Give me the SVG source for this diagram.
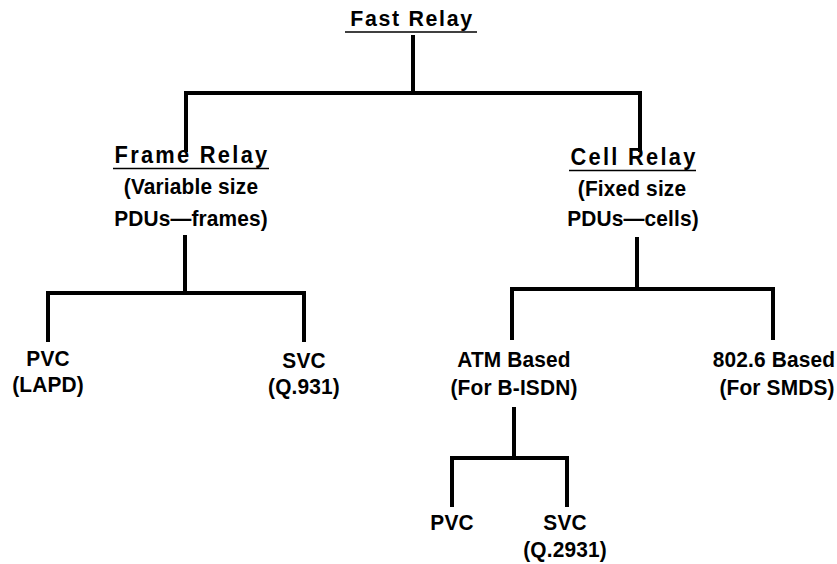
<svg xmlns="http://www.w3.org/2000/svg" width="837" height="564" viewBox="0 0 837 564">
  <style>
    .lbl { font-family: "Liberation Sans", Arial, sans-serif; font-weight: bold; font-size: 22px; letter-spacing: 0.15px; fill: #000; text-anchor: middle; }
    .head { font-size: 23px; letter-spacing: 2.4px; }
    .top { font-size: 22.5px; letter-spacing: 1.75px; }
    .ul { stroke: #000; stroke-width: 1.6; }
    .conn { fill: none; stroke: #000; stroke-width: 4; stroke-linecap: butt; stroke-linejoin: miter; }
  </style>
  <rect width="837" height="564" fill="#fff"/>

  <!-- tree connectors -->
  <g id="connectors">
    <path class="conn" d="M413 35 V93 M186 152 V93 H640 V152"/>
    <path class="conn" d="M185 235 V293 M48 342 V293 H304 V342"/>
    <path class="conn" d="M637 237 V289 M512 340 V289 H773 V340"/>
    <path class="conn" d="M514 407 V458 M452 507 V458 H567 V507"/>
  </g>

  <!-- labels are set in a slightly condensed bold sans (x scaled to 0.95) -->
  <g id="fast-relay">
    <text class="lbl top" transform="translate(412 26) scale(0.95 1)">Fast Relay</text>
    <line class="ul" x1="345" y1="32" x2="477" y2="32"/>
  </g>

  <g id="frame-relay">
    <text class="lbl head" transform="translate(192 163) scale(0.95 1)">Frame Relay</text>
    <line class="ul" x1="113" y1="168.5" x2="269" y2="168.5"/>
    <text class="lbl" transform="translate(191 194) scale(0.95 1)">(Variable size</text>
    <text class="lbl" transform="translate(191 226) scale(0.95 1)">PDUs—frames)</text>
  </g>

  <g id="cell-relay">
    <text class="lbl head" transform="translate(634 165) scale(0.95 1)">Cell Relay</text>
    <line class="ul" x1="569" y1="170.5" x2="696" y2="170.5"/>
    <text class="lbl" transform="translate(632 196) scale(0.95 1)">(Fixed size</text>
    <text class="lbl" transform="translate(633 226) scale(0.95 1)">PDUs—cells)</text>
  </g>

  <g id="fr-pvc">
    <text class="lbl" transform="translate(48 366) scale(0.95 1)">PVC</text>
    <text class="lbl" transform="translate(48 392) scale(0.95 1)">(LAPD)</text>
  </g>

  <g id="fr-svc">
    <text class="lbl" transform="translate(304 368) scale(0.95 1)">SVC</text>
    <text class="lbl" transform="translate(304 394) scale(0.95 1)">(Q.931)</text>
  </g>

  <g id="atm-based">
    <text class="lbl" transform="translate(514 367) scale(0.95 1)">ATM Based</text>
    <text class="lbl" transform="translate(514 395) scale(0.95 1)">(For B-ISDN)</text>
  </g>

  <g id="ieee-802-6-based">
    <text class="lbl" transform="translate(774 367) scale(0.95 1)">802.6 Based</text>
    <text class="lbl" transform="translate(777 395) scale(0.95 1)">(For SMDS)</text>
  </g>

  <g id="atm-pvc">
    <text class="lbl" transform="translate(452 530) scale(0.95 1)">PVC</text>
  </g>

  <g id="atm-svc">
    <text class="lbl" transform="translate(565 530) scale(0.95 1)">SVC</text>
    <text class="lbl" transform="translate(565 557) scale(0.95 1)">(Q.2931)</text>
  </g>
</svg>
